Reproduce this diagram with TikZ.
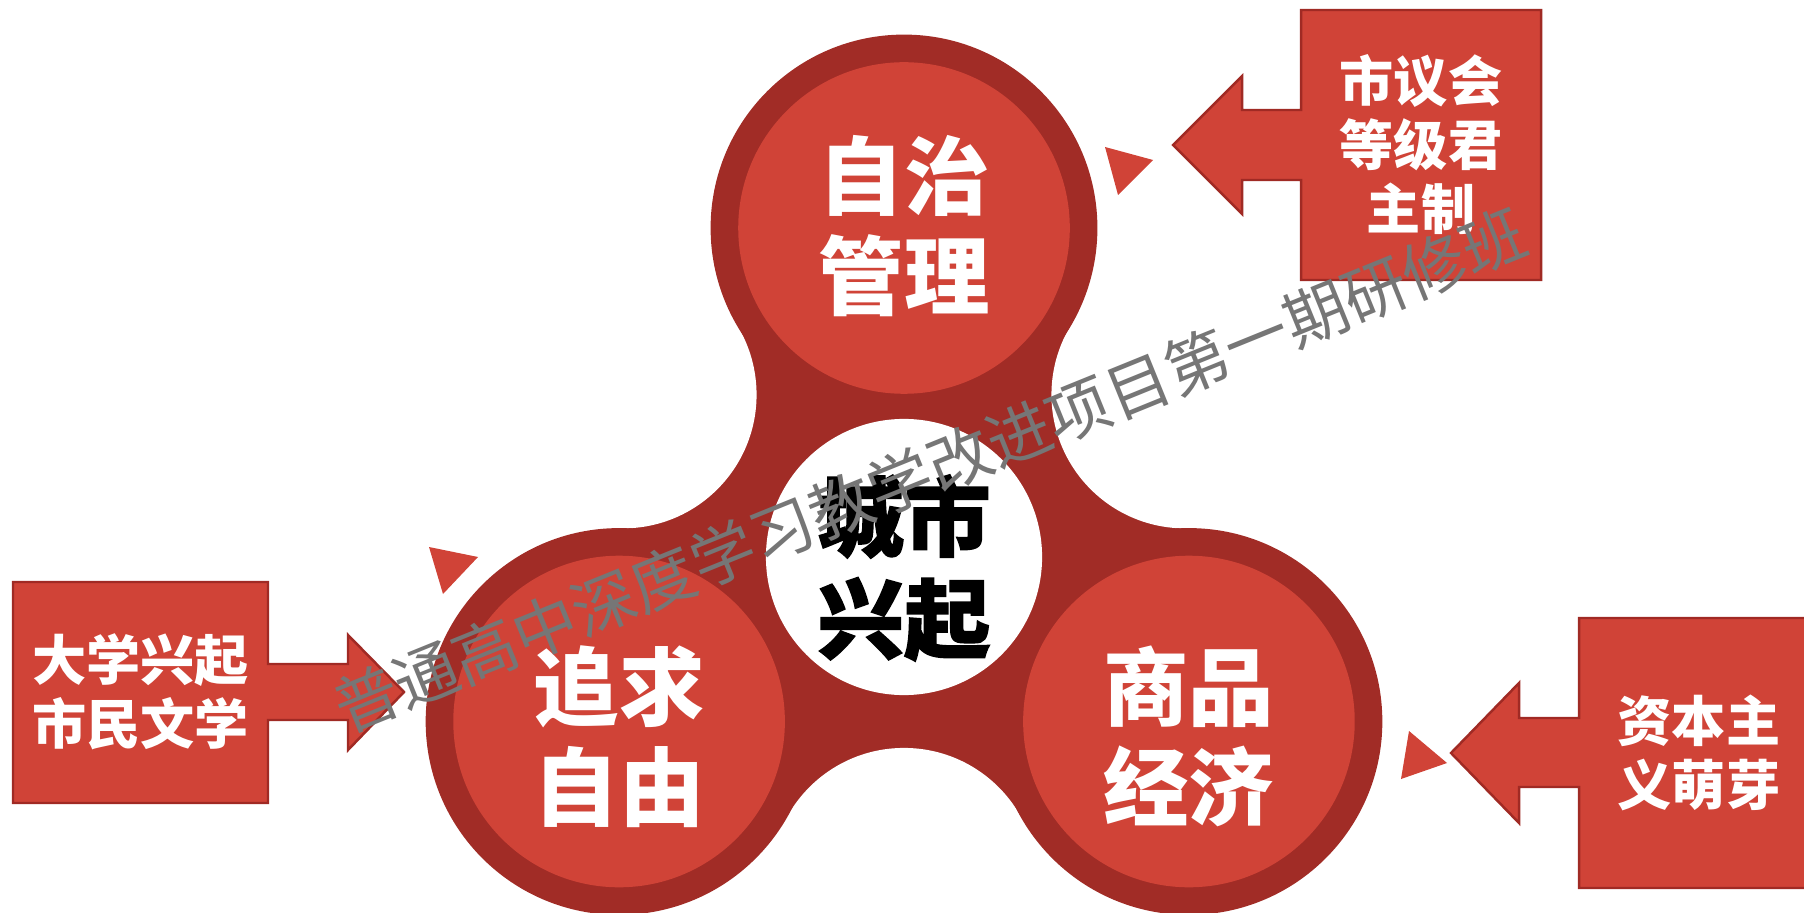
\documentclass[tikz,border=0pt]{standalone}
\usepackage{fontspec}
\newfontfamily\cjk{Noto Sans CJK SC}
\newfontfamily\cjkheavy{Noto Sans CJK SC}[BoldFeatures={FakeBold=1.6}]
\usetikzlibrary{calc}
\definecolor{lobered}{RGB}{208,67,55}
\definecolor{ringred}{RGB}{161,44,38}
\definecolor{edgered}{RGB}{160,42,36}
\definecolor{wmgray}{RGB}{118,118,118}

\begin{document}
\begin{tikzpicture}[x=0.01cm, y=-0.01cm,
    lobetext/.style={text=white, font=\cjk\bfseries\fontsize{24.3}{28.5}\selectfont, align=center},
    notetext/.style={text=white, font=\cjk\bfseries\fontsize{15.4}{18.2}\selectfont, align=center},
    callout/.style={fill=lobered, draw=edgered, line width=0.7pt, line join=miter},
    pointer/.style={fill=lobered}]

    \useasboundingbox (0,0) rectangle (1804,913);

    % Hub and lobes
    \coordinate (hub) at (904,557);
    \foreach \a/\n in {-90/top,30/right,150/left}
        \coordinate (\n) at ($(hub)+(\a:329)$);
    \foreach \a/\n in {90/gapb,-30/gapr,210/gapl}
        \coordinate (\n) at ($(hub)+(\a:324.6)$);

    % Spinner body
    \fill[ringred] (top) -- (gapr) -- (right) -- (gapb) -- (left) -- (gapl) -- cycle;
    \foreach \n in {gapb,gapr,gapl}
        \fill[white] (\n) circle[radius=1.336cm];
    \foreach \n in {top,right,left} {
        \fill[ringred] (\n) circle[radius=1.933cm];
        \fill[lobered] (\n) circle[radius=1.657cm];
    }
    \fill[white] (hub) circle[radius=1.38cm];

    % Callouts
    \draw[callout] (1301,10) -- (1541,10) -- (1541,280) -- (1301,280) -- (1301,180)
        -- (1242,180) -- (1242,214) -- (1173,145) -- (1242,76) -- (1242,110) -- (1301,110) -- cycle;
    \draw[callout] (13,582) -- (268,582) -- (268,664) -- (348,664) -- (348,635) -- (404,692)
        -- (348,750) -- (348,720) -- (268,720) -- (268,803) -- (13,803) -- cycle;
    \draw[callout] (1579,618) -- (1830,618) -- (1830,888) -- (1579,888) -- (1579,787)
        -- (1519,787) -- (1519,823) -- (1451,753) -- (1519,683) -- (1519,718) -- (1579,718) -- cycle;

    % Small pointers
    \fill[pointer] (1105,147) -- (1153,160) -- (1118,195) -- cycle;
    \fill[pointer] (429,547) -- (478,557) -- (443,594) -- cycle;
    \fill[pointer] (1409,731) -- (1447,763) -- (1401,779) -- cycle;

    % Labels
    \node[lobetext] (selfrule) at ($(top)+(0,-2)$) {自治\\管理};
    \node[lobetext, text=black, font=\cjkheavy\bfseries\fontsize{24.6}{29}\selectfont] (rise)
        at ($(hub)+(0,11)$) {城市\\兴起};
    \node[lobetext] (freedom) at ($(left)+(0,15)$) {追求\\自由};
    \node[lobetext] (commerce) at ($(right)+(0,15)$) {商品\\经济};

    \node[notetext] (council) at (1421,145) {市议会\\等级君\\主制};
    \node[notetext] (college) at (140.5,692) {大学兴起\\市民文学};
    \node[notetext] (capital) at (1699,752.5) {资本主\\义萌芽};

    % Watermark
    \node[rotate=22.1, text=wmgray, font=\cjk\fontsize{18.2}{20}\selectfont] (stamp) at (930,470)
        {普通高中深度学习教学改进项目第一期研修班};

\end{tikzpicture}
\end{document}
